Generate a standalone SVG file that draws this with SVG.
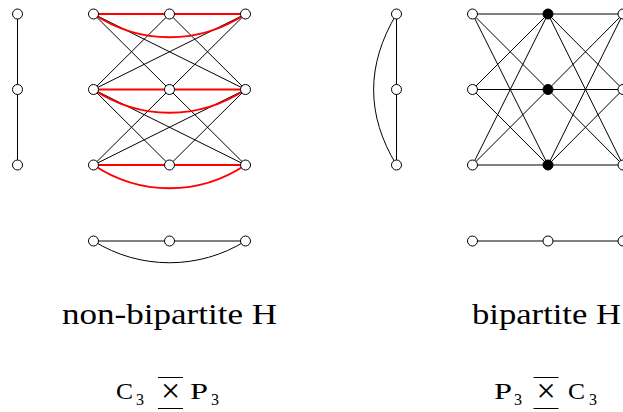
<svg xmlns="http://www.w3.org/2000/svg" width="623" height="412" viewBox="0 0 623 412">
<style>
.e{stroke:#000;stroke-width:1;fill:none}
.r{stroke:#f00;stroke-width:2;fill:none}
.n{fill:#fff;stroke:#000;stroke-width:1}
.b{fill:#000;stroke:#000;stroke-width:1}
.t{font-family:"Liberation Serif","Times New Roman",serif;fill:#000}
.m{font-size:23px}
.s{font-size:16px}
.x{font-size:34px}
</style>
<rect width="623" height="412" fill="#fff"/>
<g id="connectors">
<line class="e" x1="17.5" y1="14" x2="17.5" y2="89.5"/>
<line class="e" x1="17.5" y1="89.5" x2="17.5" y2="165"/>
<line class="e" x1="93.5" y1="14" x2="169.5" y2="89.5"/>
<line class="e" x1="93.5" y1="14" x2="245.5" y2="89.5"/>
<line class="e" x1="169.5" y1="14" x2="93.5" y2="89.5"/>
<line class="e" x1="169.5" y1="14" x2="245.5" y2="89.5"/>
<line class="e" x1="245.5" y1="14" x2="93.5" y2="89.5"/>
<line class="e" x1="245.5" y1="14" x2="169.5" y2="89.5"/>
<line class="e" x1="93.5" y1="89.5" x2="169.5" y2="165"/>
<line class="e" x1="93.5" y1="89.5" x2="245.5" y2="165"/>
<line class="e" x1="169.5" y1="89.5" x2="93.5" y2="165"/>
<line class="e" x1="169.5" y1="89.5" x2="245.5" y2="165"/>
<line class="e" x1="245.5" y1="89.5" x2="93.5" y2="165"/>
<line class="e" x1="245.5" y1="89.5" x2="169.5" y2="165"/>
<line class="r" x1="93.5" y1="14" x2="245.5" y2="14"/>
<path class="r" d="M93.5,14 C140,45 199,45 245.5,14"/>
<line class="r" x1="93.5" y1="89.5" x2="245.5" y2="89.5"/>
<path class="r" d="M93.5,89.5 C140,120.5 199,120.5 245.5,89.5"/>
<line class="r" x1="93.5" y1="165" x2="245.5" y2="165"/>
<path class="r" d="M93.5,165 C140,196 199,196 245.5,165"/>
<line class="e" x1="93.5" y1="241" x2="245.5" y2="241"/>
<path class="e" d="M93.5,241 C140,270 199,270 245.5,241"/>
<line class="e" x1="396.5" y1="14" x2="396.5" y2="165"/>
<path class="e" d="M396.5,14 C366,65 366,115 396.5,165"/>
<line class="e" x1="472.5" y1="14" x2="548" y2="14"/>
<line class="e" x1="472.5" y1="14" x2="548" y2="89.5"/>
<line class="e" x1="472.5" y1="14" x2="548" y2="165"/>
<line class="e" x1="472.5" y1="89.5" x2="548" y2="14"/>
<line class="e" x1="472.5" y1="89.5" x2="548" y2="89.5"/>
<line class="e" x1="472.5" y1="89.5" x2="548" y2="165"/>
<line class="e" x1="472.5" y1="165" x2="548" y2="14"/>
<line class="e" x1="472.5" y1="165" x2="548" y2="89.5"/>
<line class="e" x1="472.5" y1="165" x2="548" y2="165"/>
<line class="e" x1="548" y1="14" x2="623" y2="14"/>
<line class="e" x1="548" y1="14" x2="623" y2="89.5"/>
<line class="e" x1="548" y1="14" x2="623" y2="165"/>
<line class="e" x1="548" y1="89.5" x2="623" y2="14"/>
<line class="e" x1="548" y1="89.5" x2="623" y2="89.5"/>
<line class="e" x1="548" y1="89.5" x2="623" y2="165"/>
<line class="e" x1="548" y1="165" x2="623" y2="14"/>
<line class="e" x1="548" y1="165" x2="623" y2="89.5"/>
<line class="e" x1="548" y1="165" x2="623" y2="165"/>
<line class="e" x1="472.5" y1="241" x2="623" y2="241"/>
</g>
<g id="left-P3">
<circle class="n" cx="17.5" cy="14" r="5"/>
<circle class="n" cx="17.5" cy="89.5" r="5"/>
<circle class="n" cx="17.5" cy="165" r="5"/>
</g>
<g id="left-grid">
<circle class="n" cx="93.5" cy="14" r="5"/>
<circle class="n" cx="169.5" cy="14" r="5"/>
<circle class="n" cx="245.5" cy="14" r="5"/>
<circle class="n" cx="93.5" cy="89.5" r="5"/>
<circle class="n" cx="169.5" cy="89.5" r="5"/>
<circle class="n" cx="245.5" cy="89.5" r="5"/>
<circle class="n" cx="93.5" cy="165" r="5"/>
<circle class="n" cx="169.5" cy="165" r="5"/>
<circle class="n" cx="245.5" cy="165" r="5"/>
</g>
<g id="left-C3">
<circle class="n" cx="93.5" cy="241" r="5"/>
<circle class="n" cx="169.5" cy="241" r="5"/>
<circle class="n" cx="245.5" cy="241" r="5"/>
</g>
<g id="right-C3">
<circle class="n" cx="396.5" cy="14" r="5"/>
<circle class="n" cx="396.5" cy="89.5" r="5"/>
<circle class="n" cx="396.5" cy="165" r="5"/>
</g>
<g id="right-grid">
<circle class="n" cx="472.5" cy="14" r="5"/>
<circle class="b" cx="548" cy="14" r="5"/>
<circle class="n" cx="623" cy="14" r="5"/>
<circle class="n" cx="472.5" cy="89.5" r="5"/>
<circle class="b" cx="548" cy="89.5" r="5"/>
<circle class="n" cx="623" cy="89.5" r="5"/>
<circle class="n" cx="472.5" cy="165" r="5"/>
<circle class="b" cx="548" cy="165" r="5"/>
<circle class="n" cx="623" cy="165" r="5"/>
</g>
<g id="right-P3">
<circle class="n" cx="472.5" cy="241" r="5"/>
<circle class="n" cx="548" cy="241" r="5"/>
<circle class="n" cx="623" cy="241" r="5"/>
</g>
<g id="label-left">
<text class="t" x="62" y="324" font-size="28.5" textLength="215" lengthAdjust="spacingAndGlyphs">non-bipartite H</text>
<text class="t m" x="116" y="399" textLength="17" lengthAdjust="spacingAndGlyphs">C</text>
<text class="t s" x="136" y="405">3</text>
<text class="t x" x="170.5" y="401.5" text-anchor="middle">×</text>
<line class="e" x1="158" y1="377.5" x2="183" y2="377.5"/>
<line class="e" x1="158" y1="408.5" x2="183" y2="408.5"/>
<text class="t m" x="190" y="399" textLength="18" lengthAdjust="spacingAndGlyphs">P</text>
<text class="t s" x="211" y="405">3</text>
</g>
<g id="label-right">
<text class="t" x="472" y="324" font-size="28.5" textLength="149" lengthAdjust="spacingAndGlyphs">bipartite H</text>
<text class="t m" x="494" y="399" textLength="18" lengthAdjust="spacingAndGlyphs">P</text>
<text class="t s" x="514" y="405">3</text>
<text class="t x" x="546" y="401.5" text-anchor="middle">×</text>
<line class="e" x1="533.5" y1="377.5" x2="558.5" y2="377.5"/>
<line class="e" x1="533.5" y1="408.5" x2="558.5" y2="408.5"/>
<text class="t m" x="568" y="399" textLength="17" lengthAdjust="spacingAndGlyphs">C</text>
<text class="t s" x="589" y="405">3</text>
</g>
</svg>
